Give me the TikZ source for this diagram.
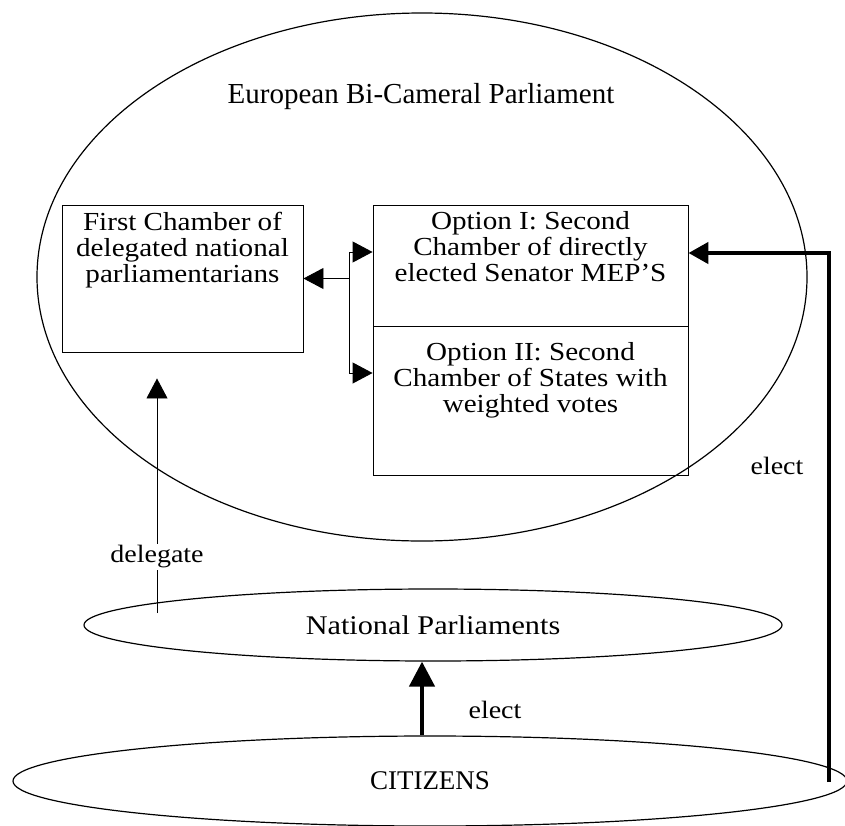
\documentclass[tikz,border=0pt]{standalone}
\usepackage{fontspec}
\setmainfont{Liberation Serif}
\newfontfamily\widefont[FakeStretch=1.12,Ligatures=TeX]{Liberation Serif}
\usetikzlibrary{shapes.geometric,arrows.meta,calc}
\begin{document}
\begin{tikzpicture}[x=1pt,y=-1pt,
  thinline/.style={line width=0.9pt},
  heavyline/.style={line width=4.5pt},
  box/.style={draw, line width=0.9pt, rectangle, inner sep=0pt},
  oval/.style={draw, line width=1.2pt, ellipse, inner sep=0pt},
  boxtext/.style={align=center, inner sep=0pt, font=\widefont\fontsize{26}{26}\selectfont},
  lbl/.style={inner sep=2pt, font=\widefont\fontsize{25}{28}\selectfont},
  tip/.style={-{Triangle[length=20pt,width=21pt]}},
  bigtip/.style={-{Triangle[length=25pt,width=25pt]}},
]
\useasboundingbox (0,0) rectangle (845,825);

% parliament ellipse and its title
\node[oval, minimum width=770, minimum height=528] (ep) at (422,277) {};
\node[inner sep=0pt, font=\fontsize{29}{34}\selectfont] (title) at (421,97) {European Bi-Cameral Parliament};

% chambers
\node[box, minimum width=241, minimum height=147] (fc) at (182.5,278.5) {};
\node[boxtext] (fct) at (182.5,250) {First Chamber of\\delegated national\\parliamentarians};
\node[box, minimum width=315, minimum height=121] (o1) at (530.5,265.5) {};
\node[boxtext] (o1t) at (530.5,247) {Option I: Second\\Chamber of directly\\elected Senator MEP’S};
\node[box, minimum width=315, minimum height=149] (o2) at (530.5,400.5) {};
\node[boxtext] (o2t) at (530.5,380) {Option II: Second\\Chamber of States with\\weighted votes};

% national parliaments and citizens
\node[oval, minimum width=698, minimum height=72] (np) at (433,625) {};
\node[inner sep=0pt, font=\widefont\fontsize{27}{32}\selectfont] (npt) at (433,625) {National Parliaments};
\node[oval, minimum width=834, minimum height=90] (cz) at (430,781) {};
\node[inner sep=0pt, font=\fontsize{27}{32}\selectfont] (czt) at (430,781) {CITIZENS};

% links between the chambers
\coordinate (jn) at (349,278.5);
\coordinate (ja) at (349,252);
\coordinate (jb) at (349,373);
\draw[thinline, tip] (jn) -- (fc.east);
\draw[thinline] (ja) -- (jb);
\draw[thinline, tip] (ja) -- (ja -| o1.west);
\draw[thinline, tip] (jb) -- (jb -| o2.west);

% delegation from the national parliaments
\coordinate (db) at (157,613);
\draw[thinline, tip, shorten >=26pt] (db) -- (db |- fc.south);
\node[lbl, fill=white] (dl) at (157,557) {delegate};

% direct election of the senators
\coordinate (eb) at (829,782);
\coordinate (ec) at (829,253);
\draw[heavyline, tip] (eb) -- (ec) -- (ec -| o1.east);
\node[lbl] (el) at (777,466) {elect};

% election of the national parliaments
\coordinate (ea) at (422,735);
\draw[heavyline, bigtip] (ea) -- (ea |- np.south);
\node[lbl] (el2) at (495,710) {elect};
\end{tikzpicture}
\end{document}
